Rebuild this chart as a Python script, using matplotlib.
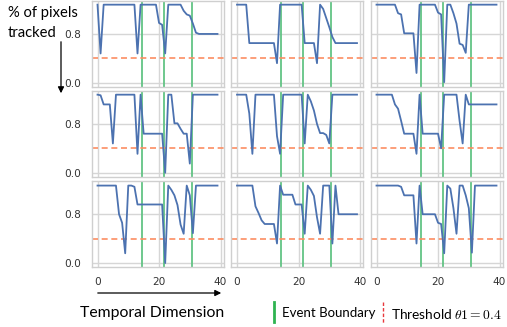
import matplotlib
matplotlib.use("Agg")
import matplotlib.pyplot as plt
import numpy as np

plt.rcParams['mathtext.fontset'] = 'cm'

# ---------------- data ----------------
t = list(range(40))
boundaries = [14.3, 21.5, 30.6]
threshold = 0.4

# rows x cols of "% of pixels tracked" series
s11 = [1.28, 0.48, 1.28, 1.28, 1.28, 1.28, 1.28, 1.28, 1.28, 1.28,
       1.28, 1.28, 1.28, 0.48, 1.28, 1.28, 1.28, 1.28, 1.28, 1.28,
       0.98, 0.95, 0.48, 1.28, 1.28, 1.28, 1.28, 1.28, 1.18, 1.12,
       1.10, 0.97, 0.82, 0.80, 0.80, 0.80, 0.80, 0.80, 0.80, 0.80]
s12 = [1.28, 1.28, 1.28, 1.28, 0.65, 0.65, 0.65, 0.65, 0.65, 0.65,
       0.65, 0.65, 0.65, 0.32, 1.28, 1.28, 1.28, 1.28, 1.28, 1.28,
       1.28, 1.28, 0.65, 0.65, 0.65, 0.65, 0.32, 1.28, 1.21, 1.06,
       0.91, 0.75, 0.65, 0.65, 0.65, 0.65, 0.65, 0.65, 0.65, 0.65]
s13 = [1.28, 1.28, 1.28, 1.28, 1.28, 1.28, 1.28, 1.14, 1.12, 0.81,
       0.81, 0.81, 0.81, 0.16, 1.28, 1.28, 1.28, 1.28, 1.28, 1.28,
       1.15, 1.12, 0.01, 1.28, 1.28, 1.14, 0.97, 0.64, 0.62, 0.49,
       1.28, 1.28, 1.28, 1.28, 1.28, 1.28, 1.28, 1.28, 1.28, 1.28]
s21 = [1.28, 1.27, 1.12, 1.12, 1.12, 0.48, 1.28, 1.28, 1.28, 1.28,
       1.28, 1.28, 1.28, 0.31, 1.28, 0.64, 0.64, 0.64, 0.64, 0.64,
       0.64, 0.64, 0.00, 1.28, 1.28, 0.81, 0.81, 0.72, 0.64, 0.64,
       0.15, 1.28, 1.28, 1.28, 1.28, 1.28, 1.28, 1.28, 1.28, 1.28]
s22 = [1.28, 1.28, 1.28, 1.28, 0.97, 0.31, 1.28, 1.28, 1.28, 1.28,
       1.28, 1.28, 1.28, 0.60, 0.31, 1.28, 1.28, 1.28, 1.28, 1.28,
       1.28, 1.28, 0.48, 1.28, 1.17, 1.02, 0.80, 0.65, 0.65, 0.62,
       0.48, 1.28, 1.28, 1.28, 1.28, 1.28, 1.28, 1.28, 1.28, 1.28]
s23 = [1.28, 1.28, 1.28, 1.28, 1.28, 1.28, 1.12, 1.05, 0.85, 0.64,
       0.64, 0.64, 0.64, 0.31, 1.28, 0.64, 0.64, 0.64, 0.64, 0.64,
       0.64, 0.40, 1.28, 1.28, 1.28, 1.28, 1.28, 0.85, 0.48, 1.28,
       1.12, 1.12, 1.12, 1.12, 1.12, 1.12, 1.12, 1.12, 1.12, 1.12]
s31 = [1.27, 1.27, 1.27, 1.27, 1.27, 1.27, 1.27, 0.80, 0.66, 0.16,
       1.27, 1.27, 1.25, 0.96, 0.96, 0.96, 0.96, 0.96, 0.96, 0.96,
       0.96, 0.96, 0.00, 1.27, 1.20, 1.11, 0.95, 0.63, 0.48, 1.27,
       1.11, 0.49, 1.27, 1.27, 1.27, 1.27, 1.27, 1.27, 1.27, 1.27]
s32 = [1.27, 1.27, 1.27, 1.27, 1.27, 1.27, 0.93, 0.82, 0.70, 0.64,
       0.64, 0.64, 0.64, 0.32, 1.27, 1.12, 1.12, 1.12, 1.12, 0.96,
       0.96, 0.96, 0.48, 1.27, 1.20, 1.10, 0.75, 0.48, 1.27, 1.27,
       1.27, 0.32, 1.27, 0.80, 0.80, 0.80, 0.80, 0.80, 0.80, 0.80]
s33 = [1.27, 1.27, 1.27, 1.27, 1.27, 1.27, 1.27, 1.27, 1.25, 1.11,
       1.11, 1.11, 1.11, 0.32, 1.27, 0.80, 0.80, 0.80, 0.80, 0.80,
       0.66, 0.64, 0.16, 1.27, 1.22, 0.90, 0.48, 1.27, 1.27, 1.11,
       0.90, 0.17, 1.27, 1.27, 1.27, 1.27, 1.27, 1.27, 1.27, 1.27]

series = [[s11, s12, s13], [s21, s22, s23], [s31, s32, s33]]
xticks = [0, 20, 40]
yticks = [0.0, 0.8]
ytick_labels = ["0.0", "0.8"]

# ---------------- layout ----------------
W, H = 507, 327
fig = plt.figure(figsize=(W / 100, H / 100), dpi=100)

col_left = [91.5, 231.0, 370.5]
col_w = 132.0
row_top = [0.7, 90.7, 181.0]
row_h = 86.0

line_c = '#4c72b0'
green_c = '#62c485'
thr_c = '#fc8d62'
grid_c = '#d6d6d6'

for r in range(3):
    for c in range(3):
        ax = fig.add_axes([col_left[c] / W, 1 - (row_top[r] + row_h) / H,
                           col_w / W, row_h / H])
        ax.set_facecolor('white')
        ax.plot(t, series[r][c], color=line_c, lw=1.3, zorder=3)
        for b in boundaries:
            ax.axvline(b, color=green_c, lw=1.3, zorder=2)
        ax.axhline(threshold, color=thr_c, lw=1.2, ls=(0, (3.6, 2.2)), zorder=2)
        ax.set_xlim(-1.95, 40.95)
        ax.set_ylim(-0.065, 1.345)
        ax.set_xticks(xticks)
        ax.set_yticks(yticks)
        ax.grid(True, color=grid_c, lw=1.0, zorder=0)
        ax.set_axisbelow(True)
        for sp in ax.spines.values():
            sp.set_color('#cfcfcf')
            sp.set_linewidth(1.0)
        ax.tick_params(length=0, labelsize=7.6, colors='#333333', pad=7.5)
        if c == 0:
            ax.set_yticklabels(ytick_labels)
        else:
            ax.set_yticklabels([])
        if r == 2:
            ax.set_xticklabels([str(v) for v in xticks])
        else:
            ax.set_xticklabels([])

def fx(px):
    return px / W

def fy(py):
    return 1 - py / H

# y-axis annotation
fig.text(fx(8), fy(16.7), "% of pixels", fontsize=10.6, family='Lato', va='baseline', ha='left')
fig.text(fx(8), fy(36.7), "tracked", fontsize=10.6, family='Lato', va='baseline', ha='left')
fig.add_artist(matplotlib.patches.FancyArrowPatch(
    (fx(61), fy(39)), (fx(61), fy(96)), transform=fig.transFigure,
    arrowstyle='-|>', mutation_scale=9, lw=0.9, color='black'))

# x-axis annotation
fig.add_artist(matplotlib.patches.FancyArrowPatch(
    (fx(95), fy(293)), (fx(224), fy(293)), transform=fig.transFigure,
    arrowstyle='-|>', mutation_scale=9, lw=0.9, color='black'))
fig.text(fx(80), fy(317.3), "Temporal Dimension", fontsize=11.3, family='Lato',
         va='baseline', ha='left')

# legend
fig.add_artist(matplotlib.lines.Line2D([fx(274), fx(274)], [fy(302), fy(322)],
                                       transform=fig.transFigure, color='#2fb350', lw=2.0))
fig.text(fx(282), fy(317), "Event Boundary", fontsize=9.5, family='Lato',
         va='baseline', ha='left')
fig.add_artist(matplotlib.lines.Line2D([fx(383), fx(383)], [fy(302), fy(324)],
                                       transform=fig.transFigure, color='#e8383d', lw=1.0,
                                       ls=(0, (2.5, 1.5))))
fig.text(fx(391), fy(319), r"Threshold $\theta 1 = 0.4$", fontsize=9.8, family='Lato',
         va='baseline', ha='left')

fig.savefig("out.png", dpi=100)
